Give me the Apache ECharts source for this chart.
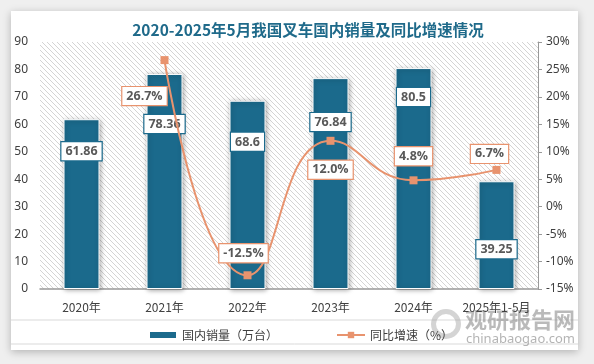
<!DOCTYPE html>
<html><head><meta charset="utf-8">
<script src="https://cdn.jsdelivr.net/npm/echarts@6/dist/echarts.min.js"></script>
<style>html,body{margin:0;padding:0;background:#efefef;}#wrap{position:absolute;left:11px;top:11px;width:567px;height:339px;background:#fff;box-shadow:0 2px 8px rgba(0,0,0,0.25);}#c{position:absolute;left:0;top:0;width:594px;height:364px;}</style>
</head><body><div id="wrap"></div><div id="c"></div>
<script>
const categories = ['2020年','2021年','2022年','2023年','2024年','2025年1-5月'];
const salesValues = [61.86, 78.36, 68.6, 76.84, 80.5, 39.25];
const growthValues = [null, 26.7, -12.5, 12.0, 4.8, 6.7];
const leftTicks = [0,10,20,30,40,50,60,70,80,90];
const rightTicks = [-15,-10,-5,0,5,10,15,20,25,30];
// label placement (layout only)
const barLabelOffsets = [18, 36, 27, 30, 15, 54];
const lineLabelOffsets = [[0,0],[-20,36],[-4,-22],[0,29],[0,-24],[-7,-16]];

const pc = document.createElement('canvas');
pc.width = 5; pc.height = 5;
const g = pc.getContext('2d');
g.fillStyle = '#ffffff'; g.fillRect(0,0,5,5);
g.strokeStyle = '#d4d4d4'; g.lineWidth = 1;
g.beginPath(); g.moveTo(-1,-1); g.lineTo(6,6); g.stroke();
g.beginPath(); g.moveTo(-1,4); g.lineTo(1,6); g.stroke();
g.beginPath(); g.moveTo(4,-1); g.lineTo(6,1); g.stroke();

const chart = echarts.init(document.getElementById('c'), null, {renderer:'canvas'});
const BAR = '#1b6a8c', LINE = '#e8936e', TXT = '#404040';
chart.setOption({
  backgroundColor: 'transparent',
  animation: false,
  title: {text: '2020-2025年5月我国叉车国内销量及同比增速情况', left: 303, top: 17, textAlign: 'center',
    textStyle: {color: '#1f6a8a', fontSize: 15.5, fontWeight: 'bold', fontFamily: 'Noto Sans CJK SC'}},
  grid: {left: 40, right: 56, top: 42, bottom: 75, show: true, borderWidth: 0,
    backgroundColor: {image: pc, repeat: 'repeat'}},
  legend: {top: 324, left: 143, itemGap: 58, itemWidth: 28, itemHeight: 8,
    textStyle: {color: TXT, fontSize: 12, fontFamily: 'Noto Sans CJK SC'},
    data: [{name: '国内销量（万台）', icon: 'rect'}, {name: '同比增速（%）'}]},
  xAxis: {type: 'category', data: categories,
    axisLine: {lineStyle: {color: '#999', width: 1.5}}, axisTick: {show: false},
    axisLabel: {color: TXT, fontSize: 12, margin: 12, interval: 0, fontFamily: 'Noto Sans CJK SC'}},
  yAxis: [
    {type: 'value', min: 0, max: 90, interval: 10, splitLine: {show: false},
      axisLine: {show: false}, axisTick: {show: false},
      axisLabel: {color: TXT, fontSize: 12, margin: 12, fontFamily: 'Noto Sans'}},
    {type: 'value', min: -15, max: 30, interval: 5, splitLine: {show: false},
      axisLine: {show: true, lineStyle: {color: '#999'}}, axisTick: {show: true, length: 4, inside: false, lineStyle: {color: '#999'}},
      axisLabel: {color: TXT, fontSize: 12, margin: 8, formatter: v => v + '%', fontFamily: 'Noto Sans'}}
  ],
  series: [
    {name: '国内销量（万台）', type: 'bar', barWidth: 36,
      itemStyle: {color: BAR, borderColor: '#fff', borderWidth: 1, shadowBlur: 5, shadowColor: 'rgba(0,0,0,0.35)', shadowOffsetX: 1, shadowOffsetY: 1},
      data: salesValues.map((v, i) => ({value: v, label: {offset: [0, barLabelOffsets[i]]}})),
      label: {show: true, position: 'insideTop', distance: 5, color: '#595959', fontWeight: 'bold', fontSize: 12.5,
        backgroundColor: '#fff', borderColor: BAR, borderWidth: 1.2, padding: [3, 4, 2, 4], fontFamily: 'Open Sans'}},
    {name: '同比增速（%）', type: 'line', yAxisIndex: 1, smooth: 0.5, symbol: 'rect', symbolSize: 8,
      itemStyle: {color: LINE}, lineStyle: {color: LINE, width: 2},
      data: growthValues.map((v, i) => ({value: v, label: {offset: lineLabelOffsets[i]}})),
      label: {show: true, position: 'inside', color: '#595959', fontWeight: 'bold', fontSize: 12.5,
        backgroundColor: '#fff', borderColor: LINE, borderWidth: 1.2, padding: [3, 4, 2, 4], fontFamily: 'Open Sans',
        formatter: p => p.value == null ? '' : p.value.toFixed(1) + '%'}}
  ],
  graphic: [
    {type: 'line', shape: {x1: 11, y1: 320, x2: 578, y2: 320}, style: {stroke: '#d9d9d9', lineWidth: 1}, silent: true},
    {type: 'line', shape: {x1: 11, y1: 344, x2: 578, y2: 344}, style: {stroke: '#d9d9d9', lineWidth: 1}, silent: true},
    {type: 'ring', shape: {cx: 446, cy: 324, r: 15, r0: 10}, style: {fill: 'rgba(160,160,160,0.45)'}, silent: true},
    {type: 'text', right: 19, top: 309, style: {text: '观研报告网', fill: 'rgba(140,140,140,0.6)', font: 'bold 22px "Noto Sans CJK SC"'}, silent: true},
    {type: 'text', right: 19, top: 333, style: {text: 'chinabaogao.com', fill: 'rgba(140,140,140,0.65)', font: '13px "Noto Sans"'}, silent: true}
  ]
});
</script></body></html>
